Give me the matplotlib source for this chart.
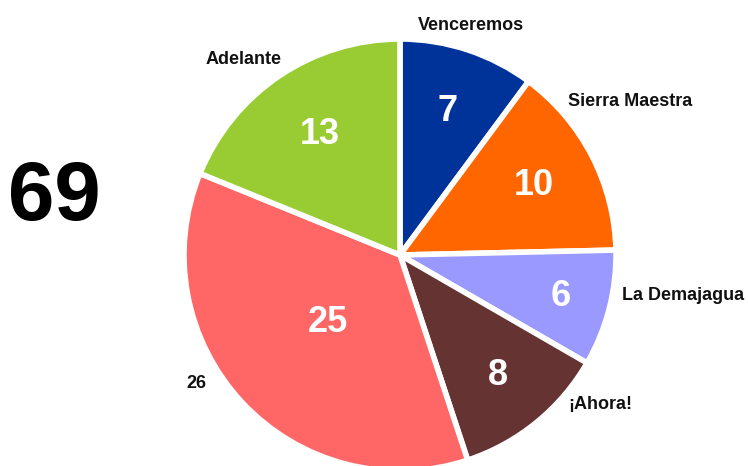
import numpy as np
import matplotlib.pyplot as plt

# values, clockwise from 12 o'clock
names = ['Venceremos', 'Sierra Maestra', 'La Demajagua', '¡Ahora!', '26', 'Adelante']
votes = [7, 10, 6, 8, 25, 13]
colors = ['#003399', '#FF6600', '#9999FF', '#663333', '#FF6666', '#99CC33']
total = sum(votes)

plt.rcParams['font.family'] = ['Liberation Sans', 'DejaVu Sans']

W, H = 748, 466
fig = plt.figure(figsize=(W / 100, H / 100), dpi=100)
ax = fig.add_axes([0, 0, 1, 1])

cx, cy, r = 400, H - 255, 216

wedges, texts = ax.pie(
    votes, colors=colors, startangle=90, counterclock=False,
    center=(cx, cy), radius=r, frame=True,
    wedgeprops=dict(edgecolor='white', linewidth=4))
ax.set_xlim(0, W)
ax.set_ylim(0, H)
ax.set_aspect('equal')
ax.axis('off')

# value labels inside the wedges, at a per-wedge fraction of the radius
num_dist = [0.70, 0.70, 0.77, 0.72, 0.46, 0.67]
for w, v, d in zip(wedges, votes, num_dist):
    mid = np.deg2rad((w.theta1 + w.theta2) / 2)
    ax.text(cx + d * r * np.cos(mid), cy + d * r * np.sin(mid), str(v),
            ha='center', va='center', color='white',
            fontsize=26, fontweight='bold')

# category labels outside the pie (pixels from top-left)
label_pos = [(471, 25), (630, 102), (683, 295), (600, 405), (196, 383), (244, 60)]
for name, (lx, ly) in zip(names, label_pos):
    ax.text(lx, H - ly, name, ha='center', va='center',
            fontsize=13, fontweight='bold', color='#111111')

ax.text(54, H - 198, str(total), ha='center', va='center',
        fontsize=60, fontweight='bold', color='black')

fig.savefig('out.png', dpi=100)
